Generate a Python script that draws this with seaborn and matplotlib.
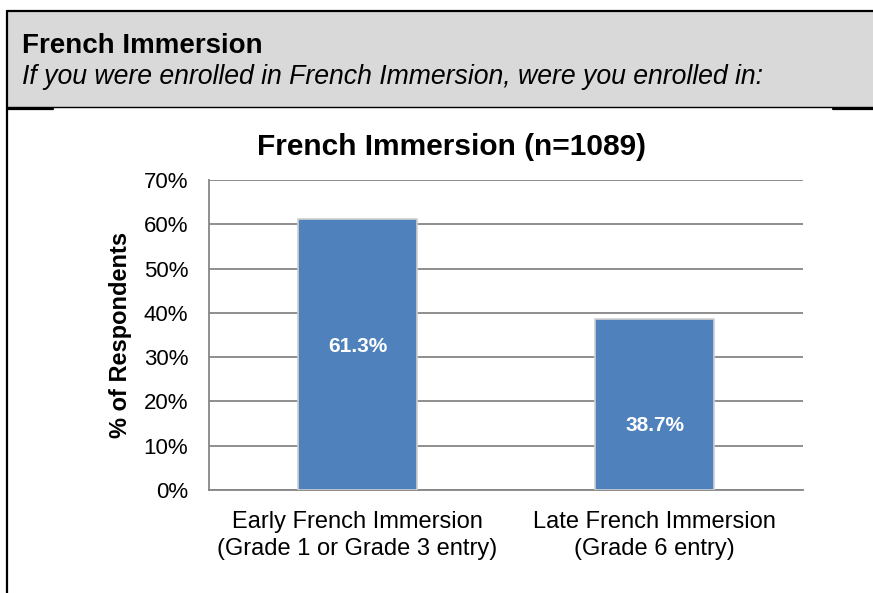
import numpy as np
import pandas as pd
import seaborn as sns
import matplotlib.pyplot as plt
from matplotlib.patches import Rectangle
from matplotlib.lines import Line2D

# --- data ---
categories = ["Early French Immersion\n(Grade 1 or Grade 3 entry)",
              "Late French Immersion\n(Grade 6 entry)"]
values = [61.3, 38.7]
value_labels = ["61.3%", "38.7%"]
yticks = [0, 10, 20, 30, 40, 50, 60, 70]
ytick_labels = ["0%", "10%", "20%", "30%", "40%", "50%", "60%", "70%"]

header_title = "French Immersion"
header_question = "If you were enrolled in French Immersion, were you enrolled in:"
chart_title = "French Immersion (n=1089)"
y_label = "% of Respondents"

sns.set_style("white")
plt.rcParams['font.family'] = ['Liberation Sans', 'DejaVu Sans']
plt.rcParams['text.color'] = 'black'
plt.rcParams['xtick.labelcolor'] = 'black'
plt.rcParams['ytick.labelcolor'] = 'black'
plt.rcParams['axes.labelcolor'] = 'black'

W, H = 873, 593
fig = plt.figure(figsize=(W / 100, H / 100), dpi=100)

def fx(px):
    return px / W

def fy(py):
    return 1 - py / H

# === header box ===
fig.patches.append(Rectangle((fx(7), fy(107)), fx(873) - fx(7), fy(11) - fy(107),
                             transform=fig.transFigure, facecolor="#D9D9D9",
                             edgecolor="none", zorder=0))
fig.lines.append(Line2D([fx(7), fx(873)], [fy(11), fy(11)], transform=fig.transFigure,
                        color="black", lw=1.6))
fig.lines.append(Line2D([fx(7), fx(873)], [fy(107), fy(107)], transform=fig.transFigure,
                        color="black", lw=1.0))
fig.lines.append(Line2D([fx(7), fx(53)], [fy(108.5), fy(108.5)], transform=fig.transFigure,
                        color="black", lw=1.6))
fig.lines.append(Line2D([fx(833), fx(873)], [fy(108.5), fy(108.5)], transform=fig.transFigure,
                        color="black", lw=1.6))
fig.lines.append(Line2D([fx(7), fx(7)], [fy(11), fy(593)], transform=fig.transFigure,
                        color="black", lw=1.6))

fig.text(fx(22), fy(46), header_title, fontsize=20, fontweight="bold",
         ha="left", va="center", color="black")
fig.text(fx(22), fy(77), header_question, fontsize=19.2, fontstyle="italic",
         ha="left", va="center", color="black")

# === chart ===
ax = fig.add_axes([fx(209), fy(490), fx(803) - fx(209), fy(180) - fy(490)])
df = pd.DataFrame({"cat": categories, "val": values})
sns.barplot(data=df, x="cat", y="val", color="#4F81BD", width=0.4, saturation=1,
            edgecolor="#D0D0D0", linewidth=1.2, ax=ax, zorder=3)

ax.set_ylim(0, 70)
ax.set_xlim(-0.5, 1.5)
ax.set_yticks(yticks)
ax.set_yticklabels(ytick_labels, fontsize=16)
ax.yaxis.grid(True, color="#868686", lw=1.3, zorder=0)
ax.set_axisbelow(True)
ax.tick_params(axis="y", length=6, width=1.3, color="#868686", pad=9)

# category ticks between bars, labels under bars
ax.set_xticks([-0.5, 0.5, 1.5])
ax.set_xticklabels(["", "", ""])
ax.tick_params(axis="x", which="major", length=6, width=1.3, color="#868686", direction="out")
ax.set_xticks([0, 1], minor=True)
ax.set_xticklabels(categories, minor=True, fontsize=17, linespacing=1.3)
ax.tick_params(axis="x", which="minor", length=0, pad=15)

for side in ["top", "right"]:
    ax.spines[side].set_visible(False)
for side in ["left", "bottom"]:
    ax.spines[side].set_color("#868686")
    ax.spines[side].set_linewidth(1.3)

ax.set_xlabel("")
ax.set_ylabel(y_label, fontsize=17, fontweight="bold")
ax.yaxis.set_label_coords((132 - 209) / (803 - 209), 0.5)

fig.text(fx(451), fy(147), chart_title, fontsize=21.5, fontweight="bold",
         ha="center", va="center", color="black")

# value labels inside bars
label_frac = [0.53, 0.375]
for i, (v, lab) in enumerate(zip(values, value_labels)):
    ax.text(i, v * label_frac[i], lab, color="white", fontsize=15, fontweight="bold",
            ha="center", va="center", zorder=5)

fig.savefig("out.png", dpi=100)
